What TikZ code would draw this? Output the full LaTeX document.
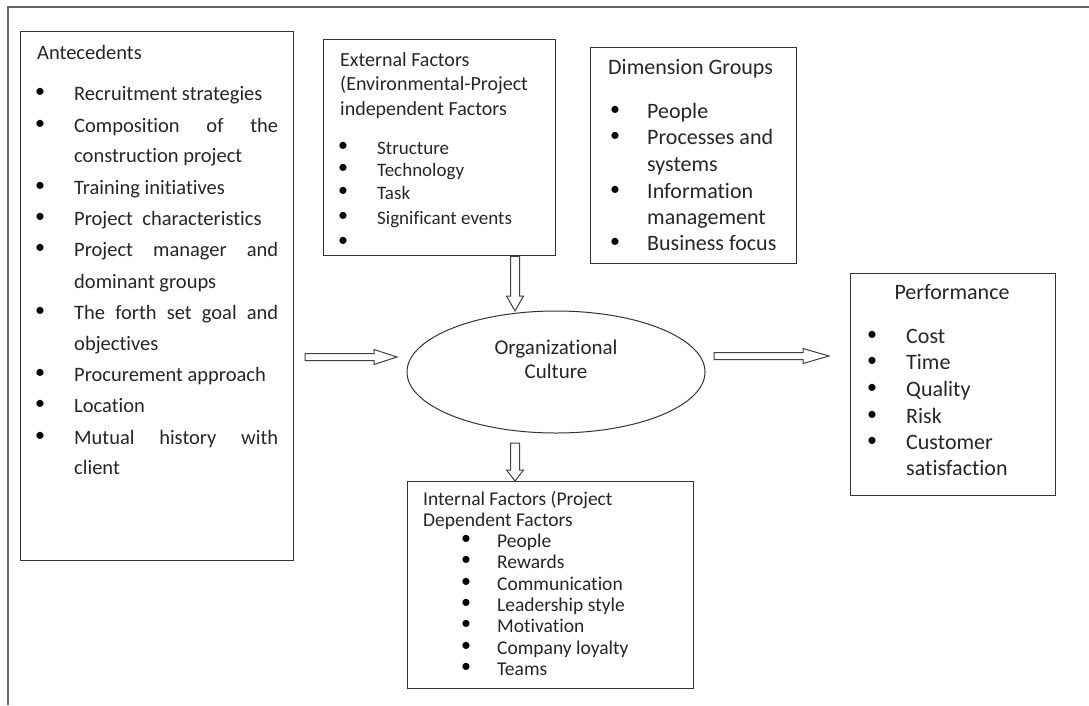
\documentclass[tikz,border=0pt]{standalone}
\usepackage{fontspec}
\setmainfont{Carlito}[Ligatures={NoCommon,NoContextual}]
\usetikzlibrary{calc,shapes.geometric}
\newcommand\fsz[1]{\fontsize{#1}{#1}\selectfont}
% right-pointing hollow block arrow: start, tip, shaft half, head half, head length
\newcommand\blockR[5]{\draw[blk] ($(#1)+(0,-#3)$) -- ($(#2)+(-#5,-#3)$) -- ($(#2)+(-#5,-#4)$) -- (#2) -- ($(#2)+(-#5,#4)$) -- ($(#2)+(-#5,#3)$) -- ($(#1)+(0,#3)$) -- cycle;}
% down-pointing hollow block arrow
\newcommand\blockD[5]{\draw[blk] ($(#1)+(-#3,0)$) -- ($(#2)+(-#3,-#5)$) -- ($(#2)+(-#4,-#5)$) -- (#2) -- ($(#2)+(#4,-#5)$) -- ($(#2)+(#3,-#5)$) -- ($(#1)+(#3,0)$) -- cycle;}
\tikzset{
  box/.style={draw=black!80, line width=1.3pt, anchor=north west, inner sep=0pt},
  txt/.style={anchor=west, inner sep=0pt, text height=15.5pt, text depth=0pt, text=black!85},
  bul/.style={anchor=center, inner sep=0pt, text=black},
  fA/.style={txt, font=\fsz{20.5}},
  fE/.style={txt, font=\fsz{20}},
  fEi/.style={txt, font=\fsz{19}},
  fD/.style={txt, font=\fsz{22}},
  fI/.style={txt, font=\fsz{19.5}},
  fO/.style={txt, anchor=center, font=\fsz{21}},
  bA/.style={bul, font=\fsz{20}},
  blk/.style={draw=black!75, line width=1pt, fill=white},
  frame/.style={draw=black!60, line width=2pt},
}
\begin{document}
\begin{tikzpicture}[x=1pt,y=-1pt]
\useasboundingbox[fill=white] (0,0) rectangle (1089,705);
\draw[frame] (1089,7) -- (8,7) -- (8,705);

% ---------- Antecedents ----------
\node[box, minimum width=273pt, minimum height=529pt] (ant) at (20,31) {};
\node[fA] (ant-t) at (37,52) {Antecedents};
\node[bA] (ant-b1) at (40,93) {\textbullet};
\node[fA] (ant-1) at (74,93) {Recruitment strategies};
\node[bA] (ant-b2) at (40,125) {\textbullet};
\node[fA] (ant-2) at (74,125) {\makebox[204pt][s]{Composition of the}};
\node[fA] (ant-3) at (74,155) {construction project};
\node[bA] (ant-b4) at (40,187) {\textbullet};
\node[fA] (ant-4) at (74,187) {Training initiatives};
\node[bA] (ant-b5) at (40,218) {\textbullet};
\node[fA] (ant-5) at (74,218) {Project\ \ characteristics};
\node[bA] (ant-b6) at (40,249) {\textbullet};
\node[fA] (ant-6) at (74,249) {\makebox[204pt][s]{Project manager and}};
\node[fA] (ant-7) at (74,281) {dominant groups};
\node[bA] (ant-b8) at (40,312) {\textbullet};
\node[fA] (ant-8) at (74,312) {\makebox[204pt][s]{The forth set goal and}};
\node[fA] (ant-9) at (74,343) {objectives};
\node[bA] (ant-b10) at (40,374) {\textbullet};
\node[fA] (ant-10) at (74,374) {Procurement approach};
\node[bA] (ant-b11) at (40,405) {\textbullet};
\node[fA] (ant-11) at (74,405) {Location};
\node[bA] (ant-b12) at (40,437) {\textbullet};
\node[fA] (ant-12) at (74,437) {\makebox[204pt][s]{Mutual history with}};
\node[fA] (ant-13) at (74,467) {client};

% ---------- External factors ----------
\node[box, minimum width=232pt, minimum height=216pt] (ext) at (323,39) {};
\node[fE] (ext-t1) at (340,59) {External Factors};
\node[fE] (ext-t2) at (340,83) {(Environmental-Project};
\node[fE] (ext-t3) at (340,108) {independent Factors};
\node[bA] (ext-b1) at (343,147) {\textbullet};
\node[fEi] (ext-1) at (377,147) {Structure};
\node[bA] (ext-b2) at (343,169) {\textbullet};
\node[fEi] (ext-2) at (377,169) {Technology};
\node[bA] (ext-b3) at (343,192) {\textbullet};
\node[fEi] (ext-3) at (377,192) {Task};
\node[bA] (ext-b4) at (343,217) {\textbullet};
\node[fEi] (ext-4) at (377,217) {Significant events};
\node[bA] (ext-b5) at (343,242) {\textbullet};

% ---------- Dimension groups ----------
\node[box, minimum width=206pt, minimum height=216pt] (dim) at (590,47) {};
\node[fD] (dim-t) at (608,67) {Dimension Groups};
\node[bA] (dim-b1) at (615,111) {\textbullet};
\node[fD] (dim-1) at (647,111) {People};
\node[bA] (dim-b2) at (615,137) {\textbullet};
\node[fD] (dim-2) at (647,137) {Processes and};
\node[fD] (dim-3) at (647,164) {systems};
\node[bA] (dim-b4) at (615,191) {\textbullet};
\node[fD] (dim-4) at (647,191) {Information};
\node[fD] (dim-5) at (647,217) {management};
\node[bA] (dim-b6) at (615,243) {\textbullet};
\node[fD] (dim-6) at (647,243) {Business focus};

% ---------- Organizational culture ----------
\node[ellipse, draw=black!80, line width=1pt, minimum width=298pt, minimum height=122pt, inner sep=0pt] (oc) at (556,372) {};
\node[fO] (oc-1) at (556,347) {Organizational};
\node[fO] (oc-2) at (556,371) {Culture};

% ---------- Performance ----------
\node[box, minimum width=205pt, minimum height=222pt] (perf) at (850,273) {};
\node[fD, anchor=center] (perf-t) at (952,292) {Performance};
\node[bA] (perf-b1) at (872,336) {\textbullet};
\node[fD] (perf-1) at (906,336) {Cost};
\node[bA] (perf-b2) at (872,362) {\textbullet};
\node[fD] (perf-2) at (906,362) {Time};
\node[bA] (perf-b3) at (872,389) {\textbullet};
\node[fD] (perf-3) at (906,389) {Quality};
\node[bA] (perf-b4) at (872,416) {\textbullet};
\node[fD] (perf-4) at (906,416) {Risk};
\node[bA] (perf-b5) at (872,442) {\textbullet};
\node[fD] (perf-5) at (906,442) {Customer};
\node[fD] (perf-6) at (906,468) {satisfaction};

% ---------- Internal factors ----------
\node[box, minimum width=286pt, minimum height=207pt] (intf) at (407,481) {};
\node[fI] (int-t1) at (423,498) {Internal Factors (Project};
\node[fI] (int-t2) at (423,519) {Dependent Factors};
\node[bA] (int-b1) at (466,540) {\textbullet};
\node[fI] (int-1) at (497,540) {People};
\node[bA] (int-b2) at (466,561) {\textbullet};
\node[fI] (int-2) at (497,561) {Rewards};
\node[bA] (int-b3) at (466,583) {\textbullet};
\node[fI] (int-3) at (497,583) {Communication};
\node[bA] (int-b4) at (466,604) {\textbullet};
\node[fI] (int-4) at (497,604) {Leadership style};
\node[bA] (int-b5) at (466,625) {\textbullet};
\node[fI] (int-5) at (497,625) {Motivation};
\node[bA] (int-b6) at (466,647) {\textbullet};
\node[fI] (int-6) at (497,647) {Company loyalty};
\node[bA] (int-b7) at (466,668) {\textbullet};
\node[fI] (int-7) at (497,668) {Teams};

% ---------- Arrows ----------
\coordinate (la1) at (305,357);
\coordinate (la2) at (397,357);
\coordinate (ra1) at (714,356);
\coordinate (ra2) at (829,356);
\coordinate (tx) at (515,0);
\coordinate (ta2) at (515,311);
\coordinate (ba1) at (515,443);
\blockR{la1}{la2}{3.5}{7.5}{23}
\blockR{ra1}{ra2}{3.5}{7.5}{26}
\blockD{ext.south -| tx}{ta2}{4.5}{8.5}{15}
\blockD{ba1}{intf.north -| ba1}{4.5}{8.5}{11}
\end{tikzpicture}
\end{document}
